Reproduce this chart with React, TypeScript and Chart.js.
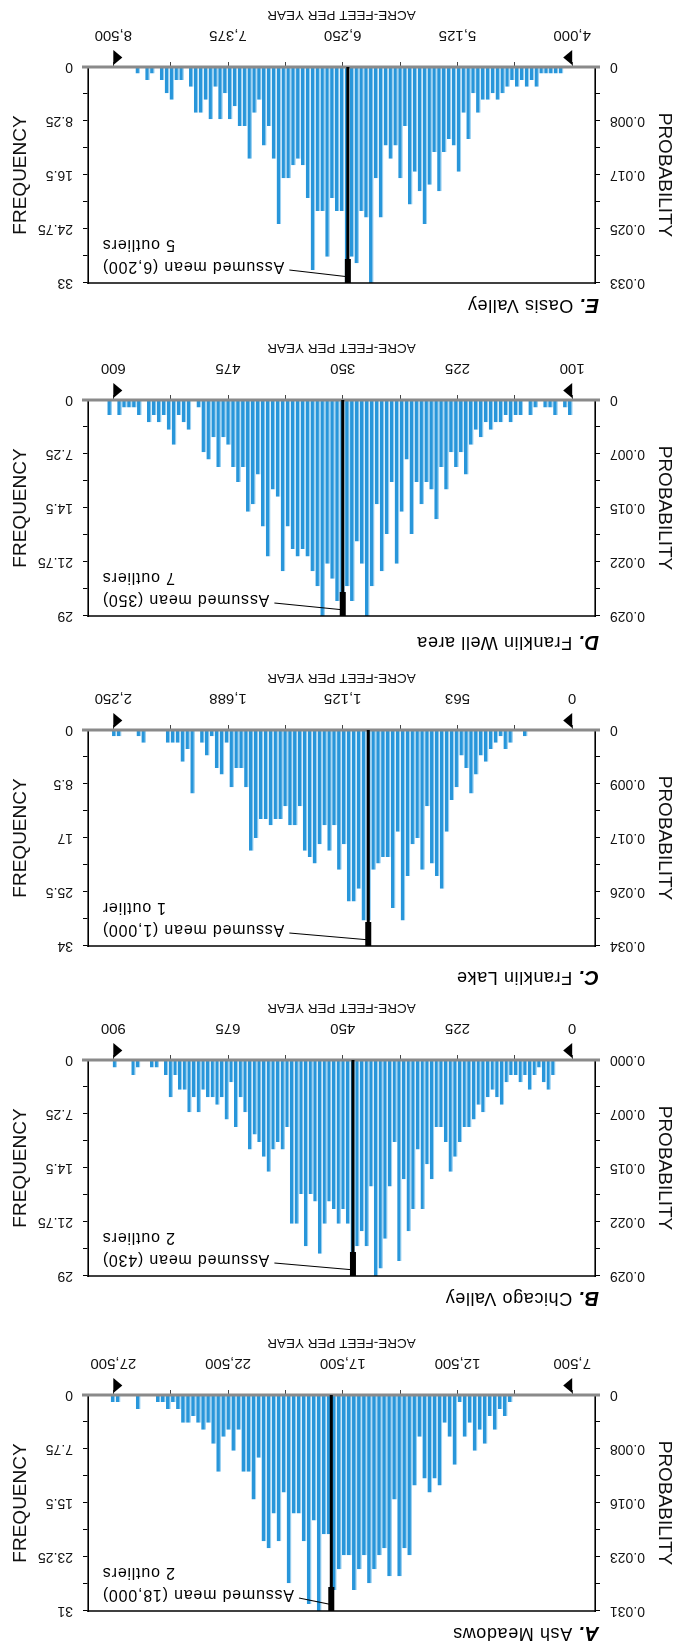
import React, { useEffect, useRef } from "react";
import { Chart, registerables } from "chart.js";

Chart.register(...registerables);

const FONT = 'Arial, "Liberation Sans", Helvetica, sans-serif';
Chart.defaults.font.family = FONT;
Chart.defaults.color = "#111";

// ---------- A. Ash Meadows ----------
const ashFreq = [
  1, 3, 2, 5, 3, 7, 5, 8,
  4, 6, 1, 10, 6, 4, 13, 12, 14, 12, 6, 13, 23, 22, 26, 15, 26, 22, 23, 25,
  27, 23, 25, 28, 23, 23, 25, 28, 20, 20, 31, 18, 30, 21, 17, 17, 27, 14, 21, 17,
  22, 21, 9, 15, 11, 11, 5, 8, 5, 6, 11, 7, 4, 5, 4, 3, 4, 4, 2, 1,
  2, 1, 1, 0, 0, 0, 2, 0, 0, 0, 1, 1,
];
const ashBinRange = [10200, 27510];
const ashXTicks = [7500, 27500];
const ashXLabels = ["7,500", "12,500", "17,500", "22,500", "27,500"];
const ashProbLabels = ["0", "0.008", "0.016", "0.023", "0.031"];
const ashFreqLabels = ["0", "7.75", "15.5", "23.25", "31"];
const ashFreqMax = 31;
const ashMean = 18000;

// ---------- B. Chicago Valley ----------
const chicagoFreq = [
  2, 4, 3, 1, 2, 4, 2, 3, 2, 2, 3, 6, 5, 4, 5, 7, 6, 8,
  9, 9, 11, 13, 15, 11,
  9, 9, 16, 14, 20, 12, 20, 23, 16, 27,
  11, 17, 24, 28, 29, 17, 25, 23, 25, 26,
  22, 20, 22, 20, 19, 22, 26, 19, 18, 25,
  18, 22, 22, 9, 12, 11, 12, 15, 13, 11,
  10, 12, 7, 5, 9, 3, 8, 5, 6, 5,
  5, 4, 7, 5, 7, 4, 4, 2, 5, 2,
  0, 1, 1, 0, 0, 1, 2, 0, 0, 0, 1,
];
const chicagoBinRange = [37, 897];
const chicagoXTicks = [0, 900];
const chicagoXLabels = ["0", "225", "450", "675", "900"];
const chicagoProbLabels = ["0.000", "0.007", "0.015", "0.022", "0.029"];
const chicagoFreqLabels = ["0", "7.25", "14.5", "21.75", "29"];
const chicagoFreqMax = 29;
const chicagoMean = 430;

// ---------- C. Franklin Lake ----------
const franklinLakeFreq = [
  1, 0, 0, 2, 3, 1, 2, 3, 5, 4, 7,
  10, 6, 4, 9,
  11, 16, 25, 23, 21, 12, 22, 17, 18, 23,
  30, 16, 28, 20, 20, 21, 22, 30, 30, 25,
  27, 27, 18, 22, 15, 19, 15, 18, 21, 20,
  19, 12, 15, 15, 12, 14, 14, 15, 14, 14,
  17, 19, 9, 6, 6, 9, 2, 7, 6, 1,
  4, 2, 0, 10, 3, 5, 2, 2, 2, 0,
  0, 0, 0, 2, 1, 0, 0, 0, 1, 1,
];
const franklinLakeBinRange = [230, 2245];
const franklinLakeXTicks = [0, 2250];
const franklinLakeXLabels = ["0", "563", "1,125", "1,688", "2,250"];
const franklinLakeProbLabels = ["0", "0.009", "0.017", "0.026", "0.034"];
const franklinLakeFreqLabels = ["0", "8.5", "17", "25.5", "34"];
const franklinLakeFreqMax = 34;
const franklinLakeMean = 1000;

// ---------- D. Franklin Well area ----------
const franklinWellFreq = [
  2, 1, 0, 2, 1, 1, 0, 1, 2, 0, 2, 2, 3, 2, 3, 3, 4, 3, 5, 4, 6,
  10, 7, 9,
  7, 12, 9, 16, 12, 11, 14, 11, 18, 8,
  15, 22, 11, 18, 23, 14, 25, 29, 22, 19,
  27, 25, 26, 27, 24, 22, 29, 25, 23, 21,
  20, 21, 20, 17, 23, 13, 12, 21, 17, 10,
  14, 15, 9, 11, 9, 6, 5, 9, 5, 8,
  7, 1, 0, 4, 3, 2, 6, 4, 2, 3,
  2, 3, 0, 2, 1, 1, 1, 2, 0, 2,
];
const franklinWellBinRange = [102, 604];
const franklinWellXTicks = [100, 600];
const franklinWellXLabels = ["100", "225", "350", "475", "600"];
const franklinWellProbLabels = ["0", "0.007", "0.015", "0.022", "0.029"];
const franklinWellFreqLabels = ["0", "7.25", "14.5", "21.75", "29"];
const franklinWellFreqMax = 29;
const franklinWellMean = 350;

// ---------- E. Oasis Valley ----------
const oasisFreq = [
  1, 1, 1, 1, 1, 3, 2, 3, 2, 3, 2, 3, 4, 5, 4, 5, 5, 7,
  4, 11, 7, 16, 12, 11, 13, 19, 13, 18,
  24, 19, 16, 21, 9, 17, 12, 14, 12, 23,
  17, 33, 23, 22, 30, 29, 33, 22, 22, 20,
  29, 22, 22, 31, 20, 15, 14, 15, 17, 17,
  24, 14, 9, 12, 5, 7, 14, 9, 9, 6,
  8, 4, 8, 3, 8, 5, 7, 7, 3, 0,
  2, 2, 5, 4, 2, 0, 1, 2, 0, 1,
];
const oasisBinRange = [4109, 8260];
const oasisXTicks = [4000, 8500];
const oasisXLabels = ["4,000", "5,125", "6,250", "7,375", "8,500"];
const oasisProbLabels = ["0", "0.008", "0.017", "0.025", "0.033"];
const oasisFreqLabels = ["0", "8.25", "16.5", "24.75", "33"];
const oasisFreqMax = 33;
const oasisMean = 6200;

const panels = [
  { letter: "A.", name: "Ash Meadows", freq: ashFreq, bins: ashBinRange, xr: ashXTicks, xl: ashXLabels, pl: ashProbLabels, fl: ashFreqLabels, fmax: ashFreqMax, mean: ashMean, meanText: "Assumed mean (18,000)", outText: "2 outliers", top: 0, titleGap: 22 },
  { letter: "B.", name: "Chicago Valley", freq: chicagoFreq, bins: chicagoBinRange, xr: chicagoXTicks, xl: chicagoXLabels, pl: chicagoProbLabels, fl: chicagoFreqLabels, fmax: chicagoFreqMax, mean: chicagoMean, meanText: "Assumed mean (430)", outText: "2 outliers", top: 335, titleGap: 22 },
  { letter: "C.", name: "Franklin Lake", freq: franklinLakeFreq, bins: franklinLakeBinRange, xr: franklinLakeXTicks, xl: franklinLakeXLabels, pl: franklinLakeProbLabels, fl: franklinLakeFreqLabels, fmax: franklinLakeFreqMax, mean: franklinLakeMean, meanText: "Assumed mean (1,000)", outText: "1 outlier", top: 665, titleGap: 31 },
  { letter: "D.", name: "Franklin Well area", freq: franklinWellFreq, bins: franklinWellBinRange, xr: franklinWellXTicks, xl: franklinWellXLabels, pl: franklinWellProbLabels, fl: franklinWellFreqLabels, fmax: franklinWellFreqMax, mean: franklinWellMean, meanText: "Assumed mean (350)", outText: "7 outliers", top: 995, titleGap: 26 },
  { letter: "E.", name: "Oasis Valley", freq: oasisFreq, bins: oasisBinRange, xr: oasisXTicks, xl: oasisXLabels, pl: oasisProbLabels, fl: oasisFreqLabels, fmax: oasisFreqMax, mean: oasisMean, meanText: "Assumed mean (6,200)", outText: "5 outliers", top: 1328, titleGap: 22 },
];

const CW = 679;
const CH = 322;

function buildConfig(p: any) {
  const [xFirst, xLast] = p.xr;
  const span = xLast - xFirst;
  const xMin = xFirst - 0.0497 * span;
  const xMax = xLast + 0.0552 * span;
  const xTickVals = Array.from({ length: 9 }, (_, i) => xFirst + (i * span) / 8);
  const [lo, hi] = p.bins;
  const step = (hi - lo) / (p.freq.length - 1);
  const points = p.freq.map((f: number, i: number) => ({ x: lo + i * step, y: f }));
  const fTicks = Array.from({ length: 9 }, (_, i) => (i * p.fmax) / 8);
  const pTicks = fTicks.map((v) => v / 1000);

  const deco = {
    id: "deco" + p.letter,
    afterDraw(chart: any) {
      const { ctx, chartArea: a, scales } = chart;
      const xs = scales.x;
      ctx.save();
      // top frame line
      ctx.strokeStyle = "#000";
      ctx.lineWidth = 1.6;
      ctx.beginPath();
      ctx.moveTo(a.left - 0.8, a.top);
      ctx.lineTo(a.right + 0.8, a.top);
      ctx.stroke();
      // grey axis line
      ctx.strokeStyle = "#8a8a8a";
      ctx.lineWidth = 3;
      ctx.beginPath();
      ctx.moveTo(a.left - 5, a.bottom);
      ctx.lineTo(a.right + 6, a.bottom);
      ctx.stroke();
      // mean line
      const mx = xs.getPixelForValue(p.mean);
      ctx.fillStyle = "#000";
      ctx.fillRect(mx - 1.5, a.top, 3, a.bottom - a.top);
      ctx.fillRect(mx - 3, a.top, 6, 24);
      // triangles
      const t1 = xs.getPixelForValue(xFirst);
      const t2 = xs.getPixelForValue(xLast);
      const ty = a.bottom + 2;
      ctx.beginPath();
      ctx.moveTo(t1, ty);
      ctx.lineTo(t1, ty + 15);
      ctx.lineTo(t1 + 9, ty + 7.5);
      ctx.closePath();
      ctx.fill();
      ctx.beginPath();
      ctx.moveTo(t2, ty);
      ctx.lineTo(t2, ty + 15);
      ctx.lineTo(t2 - 9, ty + 7.5);
      ctx.closePath();
      ctx.fill();
      // panel title
      ctx.textBaseline = "middle";
      ctx.textAlign = "left";
      try { (ctx as any).letterSpacing = "0.6px"; } catch (e) {}
      const tyT = a.top - p.titleGap;
      ctx.font = `italic bold 20px ${FONT}`;
      ctx.fillText(p.letter, 80, tyT);
      const lw = ctx.measureText(p.letter).width;
      ctx.font = `18px ${FONT}`;
      ctx.fillText(" " + p.name, 80 + lw, tyT);
      // annotation
      ctx.font = `16px ${FONT}`;
      try { (ctx as any).letterSpacing = "0.8px"; } catch (e) {}
      ctx.textAlign = "right";
      const rx = a.right - 14;
      ctx.fillText(p.meanText, rx, a.top + 17);
      ctx.fillText(p.outText, rx, a.top + 39);
      const w = ctx.measureText(p.meanText).width;
      ctx.strokeStyle = "#000";
      ctx.lineWidth = 1.2;
      ctx.beginPath();
      ctx.moveTo(rx - w - 5, a.top + 13);
      ctx.lineTo(mx - 2, a.top + 6);
      ctx.stroke();
      ctx.restore();
    },
  };

  return {
    type: "bar",
    data: {
      datasets: [
        {
          data: points,
          xAxisID: "x",
          yAxisID: "yF",
          backgroundColor: "#2896da",
          borderColor: "#9dd2f2",
          borderWidth: { left: 1.2, right: 0, top: 0, bottom: 0 },
          borderSkipped: false,
          barPercentage: 0.95,
          categoryPercentage: 1,
        },
      ],
    },
    options: {
      responsive: false,
      devicePixelRatio: 1,
      animation: false,
      layout: { padding: { top: 39, left: 0, right: 0, bottom: 0 } },
      plugins: { legend: { display: false }, tooltip: { enabled: false } },
      scales: {
        x: {
          type: "linear",
          position: "bottom",
          offset: false,
          min: xMin,
          max: xMax,
          afterBuildTicks: (s: any) => {
            s.ticks = xTickVals.map((v) => ({ value: v }));
          },
          afterFit: (s: any) => {
            s.height = CH - 39 - 216;
          },
          ticks: {
            autoSkip: false,
            maxRotation: 0,
            padding: 18,
            font: { size: 15 },
            color: "#111",
            callback: (_v: any, i: number) => (i % 2 === 0 ? p.xl[i / 2] : ""),
          },
          grid: { offset: false, drawOnChartArea: false, tickLength: 5, color: "#444" },
          border: { display: false },
          title: {
            display: true,
            text: "ACRE-FEET PER YEAR",
            font: { size: 13.5 },
            color: "#111",
            padding: { top: 0, bottom: 7 },
          },
        },
        yP: {
          type: "linear",
          position: "left",
          min: 0,
          max: p.fmax / 1000,
          afterBuildTicks: (s: any) => {
            s.ticks = pTicks.map((v) => ({ value: v }));
          },
          afterFit: (s: any) => {
            s.width = 84;
          },
          ticks: {
            autoSkip: false,
            padding: 10,
            font: { size: 14 },
            color: "#111",
            callback: (_v: any, i: number) => (i % 2 === 0 ? p.pl[i / 2] : ""),
          },
          grid: { drawOnChartArea: false, tickLength: 5, color: "#000" },
          border: { display: true, color: "#000", width: 1.6 },
          title: {
            display: true,
            text: "PROBABILITY",
            font: { size: 19 },
            color: "#111",
            padding: { top: 3, bottom: 0 },
          },
        },
        yF: {
          type: "linear",
          position: "right",
          min: 0,
          max: p.fmax,
          afterBuildTicks: (s: any) => {
            s.ticks = fTicks.map((v) => ({ value: v }));
          },
          afterFit: (s: any) => {
            s.width = 88;
          },
          ticks: {
            autoSkip: false,
            padding: 10,
            font: { size: 14 },
            color: "#111",
            callback: (_v: any, i: number) => (i % 2 === 0 ? p.fl[i / 2] : ""),
          },
          grid: { drawOnChartArea: false, tickLength: 5, color: "#000" },
          border: { display: true, color: "#000", width: 1.6 },
          title: {
            display: true,
            text: "FREQUENCY",
            font: { size: 19 },
            color: "#111",
            padding: { top: 9, bottom: 0 },
          },
        },
      },
    },
    plugins: [deco],
  };
}

function Panel({ p }: { p: any }) {
  const ref = useRef<HTMLCanvasElement>(null);
  useEffect(() => {
    const chart = new Chart(ref.current as HTMLCanvasElement, buildConfig(p) as any);
    return () => chart.destroy();
  }, [p]);
  return (
    <canvas
      ref={ref}
      width={CW}
      height={CH}
      style={{ position: "absolute", left: 0, top: p.top, width: CW, height: CH }}
    />
  );
}

export default function App() {
  return (
    <div
      style={{
        position: "absolute",
        left: 0,
        top: 0,
        width: CW,
        height: 1650,
        background: "#fff",
        transform: "rotate(180deg)",
        transformOrigin: "50% 50%",
      }}
    >
      {panels.map((p) => (
        <Panel key={p.letter} p={p} />
      ))}
    </div>
  );
}
